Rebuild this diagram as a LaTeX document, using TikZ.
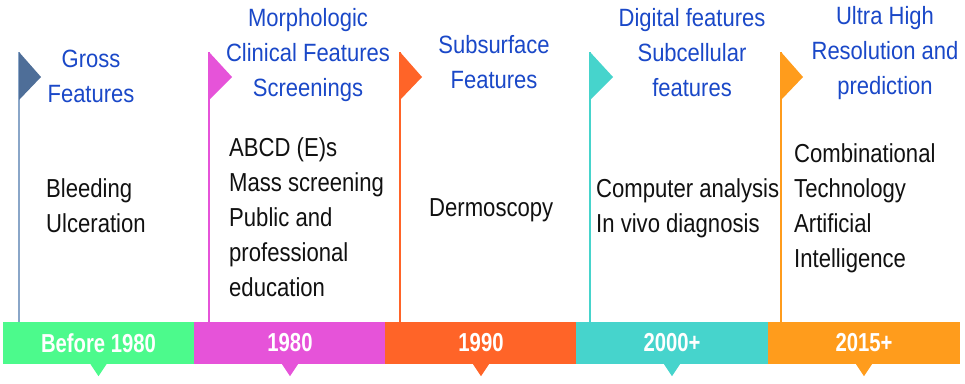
\documentclass[tikz,border=0pt]{standalone}
\usepackage{fontspec}
\setmainfont{Liberation Sans}
\newfontfamily\headfont[FakeStretch=0.88]{Liberation Sans}
\newfontfamily\bodyfont[FakeStretch=0.85]{Liberation Sans}
\newfontfamily\barfont[FakeStretch=0.78]{Liberation Sans}
\definecolor{cgreen}{HTML}{4CFA8C}
\definecolor{cmagenta}{HTML}{E653D9}
\definecolor{corange}{HTML}{FF6428}
\definecolor{cteal}{HTML}{46D4CC}
\definecolor{camber}{HTML}{FF9C1C}
\definecolor{cslate}{HTML}{4E6E98}
\definecolor{cslatepole}{HTML}{8AA6C8}
\definecolor{headblue}{HTML}{1A48C8}
\definecolor{bodyblack}{HTML}{111111}
\begin{document}
\begin{tikzpicture}[x=1pt,y=-1pt,
  head/.style={font=\headfont\fontsize{25}{35}\selectfont, text=headblue, align=center, anchor=base, inner sep=0pt},
  body/.style={font=\bodyfont\fontsize{26}{35}\selectfont, text=bodyblack, align=left, anchor=base west, inner sep=0pt},
  seg/.style={minimum width=191.6pt, minimum height=42pt, inner sep=0pt, font=\barfont\bfseries\fontsize{26}{30}\selectfont, text=white},
  pole/.style={line width=1.2pt},
]
\useasboundingbox[fill=white] (0,0) rectangle (965,383);

% bottom bar
\node[seg, fill=cgreen]   (s1) at (98.5,343) {Before 1980};
\node[seg, fill=cmagenta] (s2) at (290,343) {1980};
\node[seg, fill=corange]  (s3) at (481,343) {1990};
\node[seg, fill=cteal]    (s4) at (672,343) {2000+};
\node[seg, fill=camber]   (s5) at (864,343) {2015+};

% pointers
\foreach \s/\c in {s1/cgreen, s2/cmagenta, s3/corange, s4/cteal, s5/camber}{
  \fill[\c] ([xshift=-8pt]\s.south) -- ([xshift=8pt]\s.south) -- ([yshift=-12pt]\s.south) -- cycle;
}

% flags
\coordinate (f1) at (19,52);
\coordinate (f2) at (209,52);
\coordinate (f3) at (400,52);
\coordinate (f4) at (590,52);
\coordinate (f5) at (781,52);
\draw[pole, cslatepole] (f1) -- (f1 |- s1.north);
\draw[pole, cmagenta] (f2) -- (f2 |- s2.north);
\draw[pole, corange] (f3) -- (f3 |- s3.north);
\draw[pole, cteal] (f4) -- (f4 |- s4.north);
\draw[pole, camber] (f5) -- (f5 |- s5.north);
\fill[cslate]   (f1) -- ++(22,25) -- ++(-22,23) -- cycle;
\fill[cmagenta] (f2) -- ++(23,25) -- ++(-23,23) -- cycle;
\fill[corange]  (f3) -- ++(22,25) -- ++(-22,23) -- cycle;
\fill[cteal]    (f4) -- ++(23,25) -- ++(-23,23) -- cycle;
\fill[camber]   (f5) -- ++(22,25) -- ++(-22,23) -- cycle;

% headings (anchor base = baseline of last line)
\node[head] (h1) at (91,102) {Gross\\Features};
\node[head] (h2) at (308,96) {Morphologic\\Clinical Features\\Screenings};
\node[head] (h3) at (494,88) {Subsurface\\Features};
\node[head] (h4) at (692,96) {Digital features\\Subcellular\\features};
\node[head] (h5) at (885,94) {Ultra High\\Resolution and\\prediction};

% body texts (anchor base west = baseline of last line)
\node[body] (t1) at (46,232) {Bleeding\\Ulceration};
\node[body] (t2) at (229,296) {ABCD (E)s\\Mass screening\\Public and\\professional\\education};
\node[body] (t3) at (429,216) {Dermoscopy};
\node[body] (t4) at (596,232) {Computer analysis\\In vivo diagnosis};
\node[body] (t5) at (794,267) {Combinational\\Technology\\Artificial\\Intelligence};
\end{tikzpicture}
\end{document}
